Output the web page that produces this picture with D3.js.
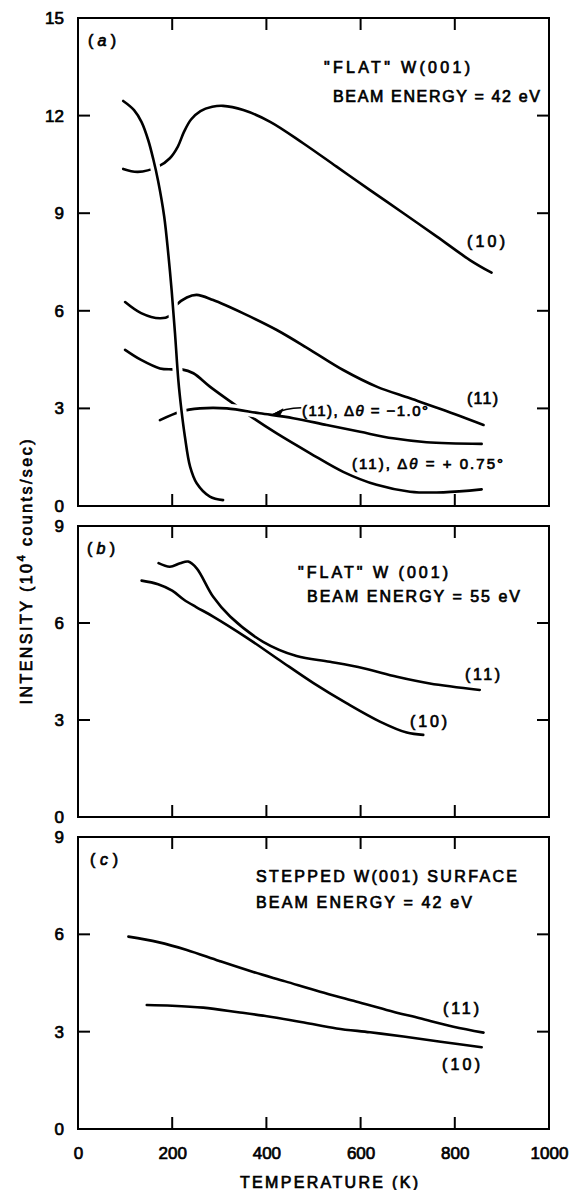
<!DOCTYPE html>
<html>
<head>
<meta charset="utf-8">
<script src="https://cdn.jsdelivr.net/npm/d3@7"></script>
<style>
  body { margin: 0; background: #fff; }
  svg { display: block; }
  text { font-family: "Liberation Sans", Arial, sans-serif; fill: #000; stroke: #000; stroke-width: 0.7px; }
  .axis text { font-size: 17px; }
  .frame { fill: none; stroke: #000; stroke-width: 2px; }
  .tickmark { stroke: #000; stroke-width: 2px; }
  .curve { fill: none; stroke: #000; stroke-width: 2.6px; stroke-linecap: round; stroke-linejoin: round; }
  .halo { fill: none; stroke: #fff; stroke-width: 10px; }
</style>
</head>
<body>
<div id="chart"></div>
<script>
//Width and height
var w = 569;
var h = 1190;

//Tick values
var xTicks = [0, 200, 400, 600, 800, 1000];
var yTicksA = [0, 3, 6, 9, 12, 15];
var yTicksBC = [0, 3, 6, 9];

//Panel (a): "flat" W(001), 42 eV  -- [temperature K, intensity 10^4 counts/sec]
var a10 = [[96,10.36],[127,10.27],[170,10.43],[195,10.69],[212,11.05],[225,11.5],[240,11.88],[260,12.14],[285,12.27],[308,12.3],[351,12.17],[408,11.81],[478,11.15],[549,10.43],[620,9.71],[691,9.0],[762,8.28],[832,7.56],[878,7.17]];
var a11 = [[100,6.27],[134,5.93],[174,5.77],[194,5.84],[209,6.18],[231,6.41],[252,6.49],[287,6.33],[351,5.92],[422,5.41],[493,4.8],[563,4.18],[634,3.67],[705,3.31],[776,2.95],[861,2.49]];
var a11Plus = [[100,4.8],[134,4.49],[174,4.23],[199,4.2],[220,4.2],[245,4.08],[280,3.67],[337,3.07],[365,2.77],[422,2.23],[493,1.62],[563,1.05],[634,0.65],[705,0.44],[776,0.42],[857,0.51]];
var a11Minus = [[174,2.64],[217,2.9],[259,3.0],[316,3.0],[386,2.85],[457,2.7],[528,2.49],[599,2.28],[669,2.08],[740,1.96],[857,1.91]];
var aSteep = [[96,12.45],[119,12.17],[135,11.8],[149,11.25],[160,10.65],[170,10.0],[183,8.9],[192,7.7],[199,6.6],[206,5.3],[213,3.87],[220,2.9],[227,2.13],[238,1.21],[252,0.7],[280,0.29],[308,0.18]];

//Panel (b): "flat" W(001), 55 eV
var b11 = [[171,7.85],[195,7.74],[217,7.85],[234,7.9],[252,7.69],[287,6.81],[323,6.2],[393,5.42],[464,4.98],[535,4.8],[606,4.6],[677,4.34],[747,4.13],[853,3.93]];
var b10 = [[135,7.31],[170,7.2],[200,7.0],[225,6.72],[250,6.5],[287,6.2],[358,5.55],[429,4.84],[500,4.14],[570,3.52],[641,2.95],[698,2.61],[733,2.54]];

//Panel (c): stepped W(001), 42 eV
var c11 = [[107,5.93],[170,5.76],[231,5.52],[300,5.18],[372,4.84],[440,4.55],[514,4.23],[585,3.95],[655,3.67],[726,3.41],[797,3.15],[861,2.97]];
var c10 = [[146,3.82],[200,3.8],[266,3.74],[340,3.6],[408,3.46],[480,3.28],[549,3.1],[620,2.98],[691,2.85],[770,2.69],[857,2.52]];

//Create SVG element
var svg = d3.select("#chart")
            .append("svg")
            .attr("width", w)
            .attr("height", h);

//Shared temperature scale
var x = d3.scaleLinear().domain([0, 1000]).range([78, 549]);
var tickLen = 12;

//halo: curves drawn after the first get a white under-stroke so they break the ones they cross
var panels = [
    { top: 18,  bottom: 506,  max: 15, ticks: yTicksA,  halo: true,  series: [a11Plus, a10, a11, a11Minus, aSteep] },
    { top: 526, bottom: 817,  max: 9,  ticks: yTicksBC, halo: false, series: [b10, b11] },
    { top: 837, bottom: 1129, max: 9,  ticks: yTicksBC, halo: false, series: [c10, c11] }
];

panels.forEach(function(p, i) {
    p.y = d3.scaleLinear().domain([0, p.max]).range([p.bottom, p.top]);
    var g = svg.append("g");

    //Frame
    g.append("rect").attr("class", "frame")
        .attr("x", x(0)).attr("y", p.top)
        .attr("width", x(1000) - x(0)).attr("height", p.bottom - p.top);

    //Inward tick marks on all four sides
    var yIn = p.ticks.slice(1, -1), xIn = xTicks.slice(1, -1);
    g.selectAll(".tl").data(yIn).enter().append("line").attr("class", "tickmark")
        .attr("x1", x(0)).attr("x2", x(0) + tickLen)
        .attr("y1", function(d) { return p.y(d); }).attr("y2", function(d) { return p.y(d); });
    g.selectAll(".tr").data(yIn).enter().append("line").attr("class", "tickmark")
        .attr("x1", x(1000)).attr("x2", x(1000) - tickLen)
        .attr("y1", function(d) { return p.y(d); }).attr("y2", function(d) { return p.y(d); });
    g.selectAll(".tt").data(xIn).enter().append("line").attr("class", "tickmark")
        .attr("x1", function(d) { return x(d); }).attr("x2", function(d) { return x(d); })
        .attr("y1", p.top).attr("y2", p.top + tickLen);
    g.selectAll(".tb").data(xIn).enter().append("line").attr("class", "tickmark")
        .attr("x1", function(d) { return x(d); }).attr("x2", function(d) { return x(d); })
        .attr("y1", p.bottom).attr("y2", p.bottom - tickLen);

    //Tick labels
    var left = g.append("g").attr("class", "axis")
        .attr("transform", "translate(" + x(0) + ",0)")
        .call(d3.axisLeft(p.y).tickValues(p.ticks).tickSize(0).tickPadding(14));
    left.select(".domain").remove();
    if (i === 2) {
        var bot = g.append("g").attr("class", "axis")
            .attr("transform", "translate(0," + p.bottom + ")")
            .call(d3.axisBottom(x).tickValues(xTicks).tickSize(0).tickPadding(18).tickFormat(d3.format("d")));
        bot.select(".domain").remove();
    }

    //Curves
    var line = d3.line()
        .x(function(d) { return x(d[0]); })
        .y(function(d) { return p.y(d[1]); })
        .curve(d3.curveCatmullRom.alpha(0.5));

    p.series.forEach(function(s, k) {
        if (p.halo && k > 0) g.append("path").attr("class", "halo").attr("d", line(s));
        g.append("path").attr("class", "curve").attr("d", line(s));
    });
});

//Arrow for the delta-theta = -1.0 label
var pa = panels[0];
var arrowStart = [x(474), pa.y(3.02)];
var arrowTip = [x(412), pa.y(2.8)];
svg.append("path")
    .attr("d", "M" + arrowStart + "Q" + [x(440), pa.y(3.02)] + " " + arrowTip)
    .attr("fill", "none").attr("stroke", "#000").attr("stroke-width", 1.6);
svg.append("path")
    .attr("d", "M" + arrowTip + "l11,-6 l-3,6 z")
    .attr("fill", "#000").attr("stroke", "#000").attr("stroke-width", 1);

//Panel labels and annotations
function label(txt, xp, yp, size, len) {
    var t = svg.append("text")
        .attr("x", xp).attr("y", yp)
        .style("font-size", size + "px");
    if (len) t.attr("textLength", len).attr("lengthAdjust", "spacing");
    if (typeof txt === "string") {
        t.text(txt);
    } else {
        txt.forEach(function(part) {
            var s = t.append("tspan").text(part[0]);
            if (part[1]) s.style("font-style", "italic");
        });
    }
    return t;
}

label([["("], ["a", 1], [")"]], 88, 46, 16, 28);
label("\"FLAT\" W(001)", 324, 73, 16, 146);
label("BEAM ENERGY = 42 eV", 333, 102, 16, 207);
label("(10)", 467, 247, 16, 38);
label("(11)", 467, 404, 16, 31);
label([["(11), Δ"], ["θ", 1], [" = −1.0°"]], 302, 416, 15, 126);
label([["(11), Δ"], ["θ", 1], [" = + 0.75°"]], 352, 469, 15, 151);

label([["("], ["b", 1], [")"]], 87, 554, 16, 28);
label("\"FLAT\" W (001)", 298, 578, 16, 150);
label("BEAM ENERGY = 55 eV", 307, 602, 16, 213);
label("(11)", 465, 680, 16, 35);
label("(10)", 410, 727, 16, 37);

label([["("], ["c", 1], [")"]], 90, 865, 16, 28);
label("STEPPED W(001) SURFACE", 256, 882, 16, 261);
label("BEAM ENERGY = 42 eV", 256, 908, 16, 216);
label("(11)", 443, 1014, 16, 36);
label("(10)", 442, 1070, 16, 38);

//Axis titles
svg.append("text")
    .attr("x", 240).attr("y", 1188)
    .attr("textLength", 178).attr("lengthAdjust", "spacing")
    .style("font-size", "16px")
    .text("TEMPERATURE (K)");

var yt = svg.append("text")
    .attr("transform", "translate(32,572) rotate(-90)")
    .attr("text-anchor", "middle")
    .attr("textLength", 265).attr("lengthAdjust", "spacing")
    .style("font-size", "16px");
yt.append("tspan").text("INTENSITY (10");
yt.append("tspan").attr("dy", -7).style("font-size", "11px").text("4");
yt.append("tspan").attr("dy", 7).text(" counts/sec)");
</script>
</body>
</html>
